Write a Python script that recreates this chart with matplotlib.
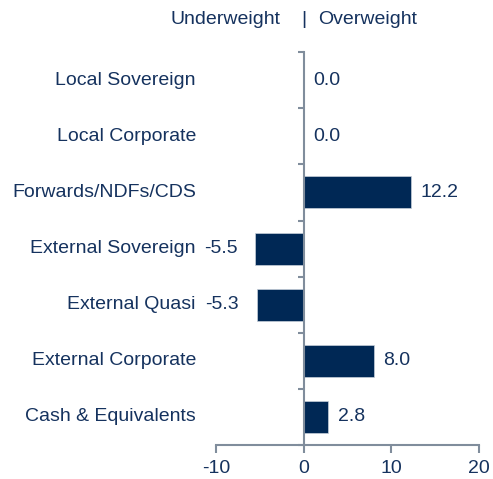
import matplotlib
matplotlib.use("Agg")
import matplotlib.pyplot as plt
from matplotlib.transforms import blended_transform_factory

categories = ["Local Sovereign", "Local Corporate", "Forwards/NDFs/CDS",
              "External Sovereign", "External Quasi", "External Corporate",
              "Cash & Equivalents"]
values = [0.0, 0.0, 12.2, -5.5, -5.3, 8.0, 2.8]
xticks = [-10, 0, 10, 20]

bar_color = "#002855"
text_color = "#15325e"
axis_color = "#808d9c"

plt.rcParams['font.family'] = ['Liberation Sans', 'DejaVu Sans']
fs = 14

fig = plt.figure(figsize=(4.93, 4.79), dpi=100)
ax = fig.add_axes([0.438, 0.071, 0.534, 0.820])

ypos = list(range(len(categories)))
ax.barh(ypos, values, height=0.57, color=bar_color, edgecolor="#c8d0da", linewidth=0.5, zorder=2)

ax.set_xlim(-10, 20)
ax.set_ylim(len(categories) - 0.5, -0.5)

for s in ["top", "right"]:
    ax.spines[s].set_visible(False)
ax.spines["left"].set_position(("data", 0))
ax.spines["left"].set_color(axis_color)
ax.spines["left"].set_linewidth(1.5)
ax.spines["bottom"].set_color(axis_color)
ax.spines["bottom"].set_linewidth(1.5)
ax.spines["left"].set_zorder(3)

ax.set_yticks([i - 0.5 for i in range(len(categories) + 1)])
ax.set_yticklabels([])
ax.tick_params(axis="y", direction="out", length=4, width=1.5, color=axis_color)
ax.set_xticks(xticks)
ax.set_xticklabels([str(t) for t in xticks], fontsize=fs, color=text_color)
ax.tick_params(axis="x", direction="out", length=6, width=1.5, color=axis_color, pad=5)

trans = blended_transform_factory(ax.transAxes, ax.transData)
for i, c in enumerate(categories):
    ax.text(-0.076, i, c, transform=trans, ha="right", va="center",
            fontsize=fs, color=text_color)

for i, v in enumerate(values):
    if v < 0:
        ax.annotate(f"{v:.1f}", xy=(v, i), xytext=(-13, 0), textcoords="offset points",
                    ha="right", va="center", fontsize=fs, color=text_color)
    else:
        ax.annotate(f"{v:.1f}", xy=(v, i), xytext=(7, 0), textcoords="offset points",
                    ha="left", va="center", fontsize=fs, color=text_color)

ttrans = blended_transform_factory(ax.transData, fig.transFigure)
ty = 1 - 20 / 479
ax.text(-2.6, ty, "Underweight", transform=ttrans, ha="right", va="center", fontsize=fs, color=text_color)
ax.text(0, ty, "|", transform=ttrans, ha="center", va="center", fontsize=fs, color=text_color)
ax.text(1.6, ty, "Overweight", transform=ttrans, ha="left", va="center", fontsize=fs, color=text_color)

fig.savefig("out.png", dpi=100)
